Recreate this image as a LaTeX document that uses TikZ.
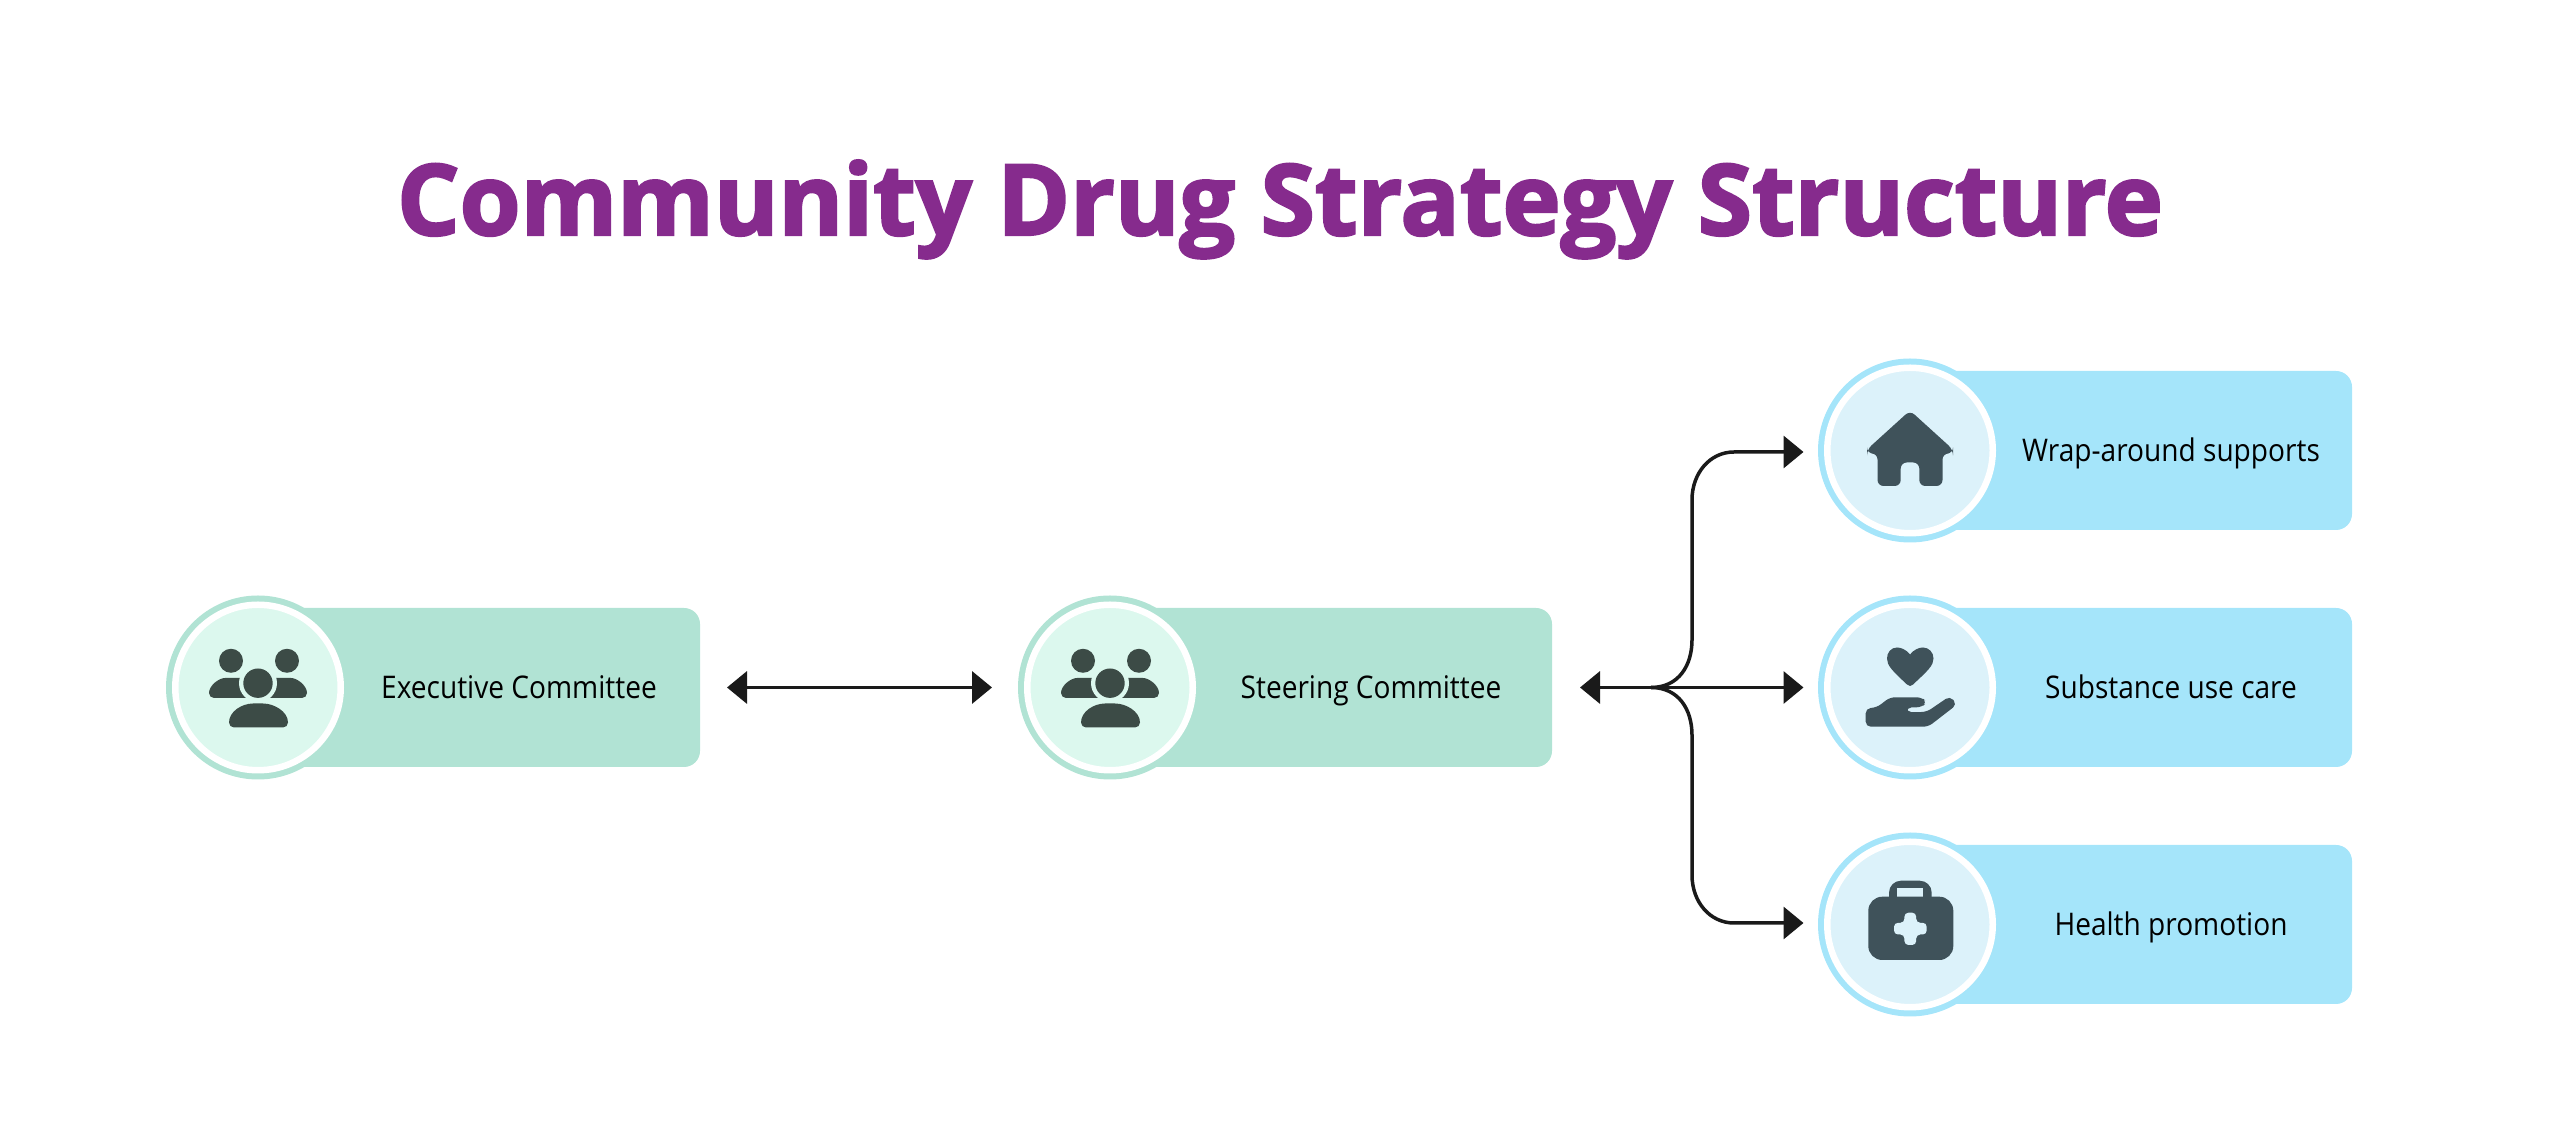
\documentclass[tikz,border=0pt]{standalone}
\usepackage{fontspec}
\setmainfont{Open Sans}
\newfontfamily\titlefont{Open Sans}[BoldFeatures={FakeBold=2.5}]
\newfontfamily\labelfont{Open Sans}[FakeStretch=0.9]
\usetikzlibrary{arrows.meta, positioning, shapes}
\definecolor{titlepurple}{HTML}{862B8D}
\definecolor{mintdark}{HTML}{B1E3D4}
\definecolor{mintlight}{HTML}{DCF8EE}
\definecolor{bluedark}{HTML}{A5E5FA}
\definecolor{bluelight}{HTML}{DCF2FA}
\definecolor{mintink}{HTML}{3C4B46}
\definecolor{blueink}{HTML}{3F525A}
\definecolor{linkblack}{HTML}{1A1A1A}
\tikzstyle{panel} = [rectangle, minimum width=221pt, minimum height=79.5pt, rounded corners=8pt, outer sep=0pt]
\tikzstyle{mintbox} = [panel, fill=mintdark]
\tikzstyle{bluebox} = [panel, fill=bluedark]
\tikzstyle{ring} = [circle, minimum size=92pt, inner sep=0pt, outer sep=0pt]
\tikzstyle{disc} = [circle, minimum size=82.75pt, inner sep=0pt, outer sep=0pt, draw=white, line width=3.25pt]
\tikzstyle{tag} = [text=black, text height=15pt, text depth=3.5pt, font=\labelfont\fontsize{15.6}{18}\selectfont]
\tikzstyle{arrow} = [draw=linkblack, line width=1.75pt, -{Triangle[length=10pt,width=16pt]}]
\tikzstyle{biarrow} = [draw=linkblack, line width=1.75pt, {Triangle[length=10pt,width=16pt]}-{Triangle[length=10pt,width=16pt]}]
\tikzset{
  people/.pic={
    \fill [mintink, rounded corners=2.5pt] (-49,-10.5) .. controls (-49,2) and (-39,9.5) .. (-28,9.5) -- (-8,9.5) -- (-8,-10.5) -- cycle;
    \fill [mintink, rounded corners=2.5pt] (49,-10.5) .. controls (49,2) and (39,9.5) .. (28,9.5) -- (8,9.5) -- (8,-10.5) -- cycle;
    \fill [mintink] (-27,26.7) circle (12) (29,26.7) circle (12);
    \fill [mintlight] (0,4.3) circle (19);
    \fill [mintink] (0,4.3) circle (14.7);
    \fill [mintink, rounded corners=2.5pt] (-29,-40) .. controls (-29,-24) and (-16,-16) .. (0,-16) .. controls (16,-16) and (30,-24) .. (30,-40) -- cycle;
  },
  house/.pic={
    \fill [blueink, rounded corners=3pt] (0,40) -- (43,1) -- (43,-3) -- (32.5,-3) -- (32.5,-35.5) -- (9.3,-35.5) -- (9.3,-12) -- (-9.3,-12) -- (-9.3,-35.5) -- (-32.5,-35.5) -- (-32.5,-3) -- (-43,-3) -- (-43,1) -- cycle;
  },
  hand/.pic={
    \fill [blueink] (0,33) .. controls (4,38) and (9,40) .. (13,40) .. controls (19,40) and (23.5,35) .. (23.5,29) .. controls (23.5,22) and (18,17) .. (3,3) .. controls (1,1) and (-1,1) .. (-3,3) .. controls (-18,17) and (-23,22) .. (-23,29) .. controls (-23,35) and (-19,40) .. (-13,40) .. controls (-9,40) and (-4,38) .. (0,33) -- cycle;
    \fill [blueink, rounded corners=2.5pt] (-44.3,-20.8) -- (-44.3,-39.2) -- (18.3,-39.2) -- (47,-17) -- (40,-8.5) -- (16.7,-24.4) -- (-3.3,-24.8) -- (-3.3,-19.8) -- (11.7,-19.8) -- (17,-14.8) -- (11.7,-9.8) -- (-20,-9.8) -- (-33.3,-20) -- cycle;
  },
  kit/.pic={
    \fill [blueink, rounded corners=6pt] (-21,10) -- (-21,43.8) -- (21.7,43.8) -- (21.7,10) -- cycle;
    \fill [bluelight] (-12.7,36) rectangle (13.3,27.8);
    \fill [blueink, rounded corners=7pt] (-41.7,27.8) rectangle (43.3,-35.5);
    \fill [bluelight, rounded corners=2pt] (-5.6,11.8) -- (6.2,11.8) -- (6.2,1.7) -- (16.7,1.7) -- (16.7,-10) -- (6.2,-10) -- (6.2,-20.5) -- (-5.6,-20.5) -- (-5.6,-10) -- (-16,-10) -- (-16,1.7) -- (-5.6,1.7) -- cycle;
  }
}
\begin{document}
\begin{tikzpicture}[x=0.5pt, y=0.5pt]
\useasboundingbox (0,0) rectangle (2560,1140);
\node (title) [anchor=base, text=titlepurple, font=\titlefont\bfseries\fontsize{49.2}{60}\selectfont] at (1280,905) {Community Drug Strategy Structure};
\node (exec) [mintbox] at (479,452.5) {};
\node (steer) [mintbox, right of=exec, node distance=426pt] {};
\node (care) [bluebox, right of=steer, node distance=400pt] {};
\node (home) [bluebox, above of=care, node distance=118.5pt] {};
\node (kit) [bluebox, below of=care, node distance=118.5pt] {};
\node (execring) [ring, fill=mintdark] at (exec.west) {};
\node (steerring) [ring, fill=mintdark] at (steer.west) {};
\node (carering) [ring, fill=bluedark] at (care.west) {};
\node (homering) [ring, fill=bluedark] at (home.west) {};
\node (kitring) [ring, fill=bluedark] at (kit.west) {};
\node (execdisc) [disc, fill=mintlight] at (execring) {};
\node (steerdisc) [disc, fill=mintlight] at (steerring) {};
\node (caredisc) [disc, fill=bluelight] at (carering) {};
\node (homedisc) [disc, fill=bluelight] at (homering) {};
\node (kitdisc) [disc, fill=bluelight] at (kitring) {};
\pic at (execdisc) {people};
\pic at (steerdisc) {people};
\pic at (homedisc) {house};
\pic at (caredisc) {hand};
\pic at (kitdisc) {kit};
\node (exectag) [tag, right of=exec, node distance=20pt] {Executive Committee};
\node (steertag) [tag, right of=steer, node distance=20pt] {Steering Committee};
\node (hometag) [tag, right of=home, node distance=20pt] {Wrap-around supports};
\node (caretag) [tag, right of=care, node distance=20pt] {Substance use care};
\node (kittag) [tag, right of=kit, node distance=20pt] {Health promotion};
\coordinate (hub) at ([shift={(99,0)}]steer.east);
\coordinate (homeend) at ([shift={(-14.5,-1.5)}]homering.west);
\coordinate (kitend) at ([shift={(-14.5,1.5)}]kitring.west);
\draw [biarrow, shorten <=13.5pt, shorten >=13pt] (exec.east) -- (steerring.west);
\draw [biarrow, shorten <=14pt, shorten >=7.25pt] (steer.east) -- (carering.west);
\draw [arrow] (hub) .. controls +(28,0) and +(0,-25) .. ++(41,47.5) -- ++(0,140) .. controls +(0,27) and +(-24,0) .. ++(42,48) -- (homeend);
\draw [arrow] (hub) .. controls +(28,0) and +(0,25) .. ++(41,-47.5) -- ++(0,-140) .. controls +(0,-27) and +(-24,0) .. ++(42,-48) -- (kitend);
\end{tikzpicture}
\end{document}
